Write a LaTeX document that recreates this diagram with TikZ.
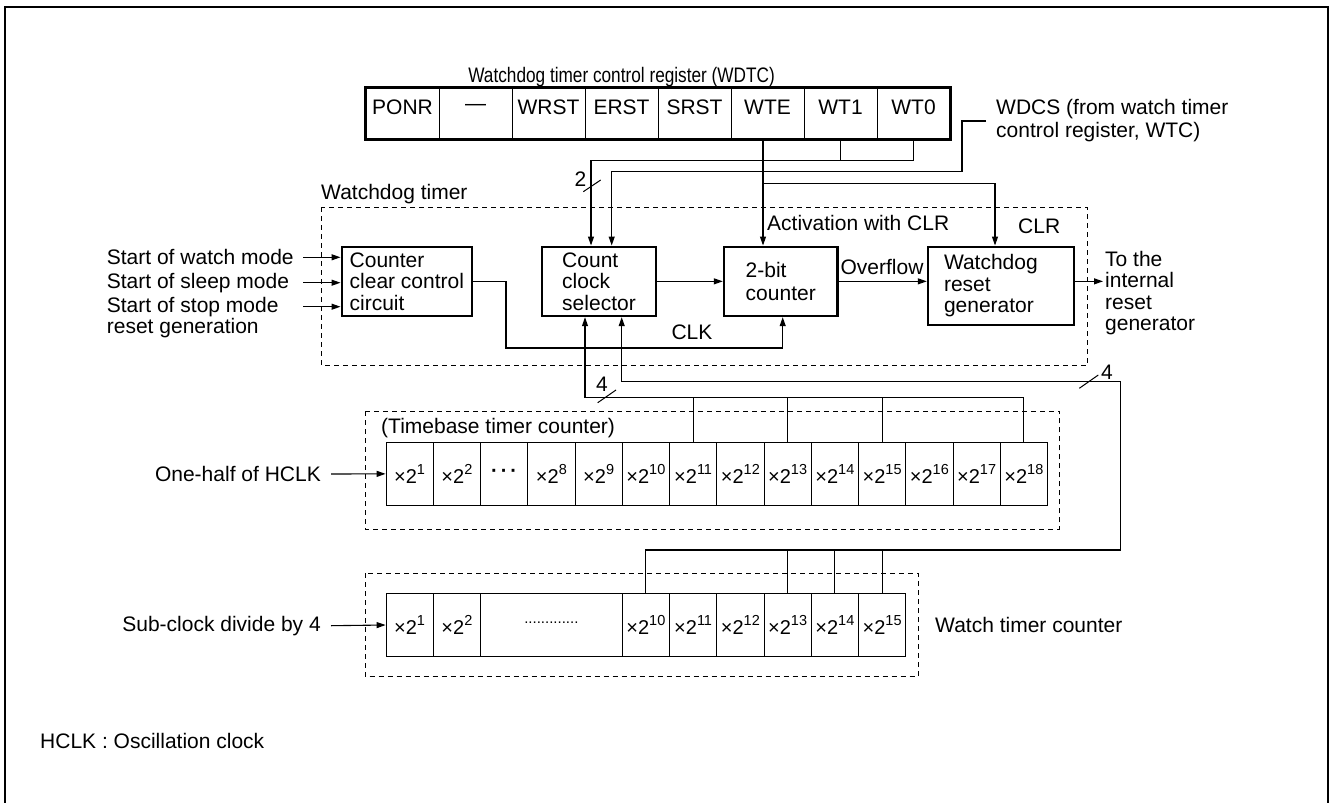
\documentclass[tikz,border=0pt]{standalone}
\usepackage{fontspec}
\setmainfont{Liberation Sans}
\usetikzlibrary{arrows.meta,calc}
\newcommand{\tp}[1]{×2\raisebox{0.45em}{\fontsize{14.5}{14.5}\selectfont #1}}
\tikzset{
  x=1pt, y=-1pt,
  txt/.style={font=\fontsize{21}{23}\selectfont, inner sep=0pt},
  blk/.style={draw, line width=2.4pt, font=\fontsize{21}{21.5}\selectfont, align=left, inner ysep=0pt, inner xsep=0pt},
  rcell/.style={draw, line width=0.9pt, minimum height=51.3pt, minimum width=73pt, inner sep=0pt},
  tcell/.style={draw, line width=0.8pt, minimum width=47.25pt, inner sep=0pt, font=\fontsize{20}{21}\selectfont},
  dbox/.style={draw, dash pattern=on 5pt off 4pt, line width=0.9pt},
  wire/.style={line width=1.1pt},
  arr/.style={wire, -{Triangle[length=9pt,width=6pt]}},
  slash/.style={line width=1pt},
}
\begin{document}
\begin{tikzpicture}
\useasboundingbox (0,0) rectangle (1333,803);
% outer frame
\draw[line width=2pt] (5,830) |- (1328,7) -- (1328,830);

% register
\node[txt] (rtitle) at (621.6,77.3) {\scalebox{0.82}[1]{Watchdog timer control register (WDTC)}};
\foreach \i/\t in {1/PONR,2/—,3/WRST,4/ERST,5/SRST,6/WTE,7/WT1,8/WT0}{
  \node[rcell] (c\i) at ({366+36.5+73*(\i-1)},113.35) {};
  \node[txt] (l\i) at ({366+36.5+73*(\i-1)},107) {\t};
}
\draw[line width=2.6pt] (c1.north west) rectangle (c8.south east);

\node[txt, anchor=west, align=left] (wdcs) at (996,121) {WDCS (from watch timer\\control register, WTC)};

% watchdog dashed box
\node[txt, anchor=west] (wdtl) at (321,194) {Watchdog timer};
\draw[dbox] (321.7,207.3) rectangle (1087.3,365.7);

% blocks
\node[blk, minimum width=130.3pt, minimum height=69.3pt] (ccc) at (406.85,281.35) {Counter\\clear control\\circuit};
\node[blk, minimum width=114pt, minimum height=69.3pt] (sel) at (599,281.35) {Count\\clock\\selector};
\node[blk, minimum width=113.5pt, minimum height=69.3pt, font=\fontsize{21}{23.5}\selectfont] (cnt) at (780.75,281.35) {2-bit\\counter};
\node[blk, minimum width=146pt, minimum height=78.3pt, text width=114pt, inner xsep=16pt] (wrg) at (1001,285.85) {Watchdog\\reset\\generator};

% inputs
\coordinate (a0) at (303.3,0);
\node[txt, anchor=west] (s1) at (106.7,257.3) {Start of watch mode};
\node[txt, anchor=west] (s2) at (106.7,282.7) {Start of sleep mode};
\node[txt, anchor=west] (s3) at (106.7,306.7) {Start of stop mode};
\node[txt, anchor=west] (s4) at (106.7,328.3) {reset generation};
\draw[arr] (s1.east -| a0) -- (s1.east -| ccc.west);
\draw[arr] (s2.east -| a0) -- (s2.east -| ccc.west);
\draw[arr] (s3.east -| a0) -- (s3.east -| ccc.west);

% register connections
\coordinate (b2) at (591,160.7);
\coordinate (wdx) at (611.7,171.7);
\coordinate (wtb) at (995,183.3);
\coordinate (wte) at (763,0);
\draw[arr] (c8.south) |- (b2) -- (b2 |- sel.north);
\draw[wire] (c7.south) -- (c7.south |- b2);
\draw[arr] ([xshift=-10pt]wdcs.west) -- (962,121) -- (962,171.7) -- (wdx) -- (wdx |- sel.north);
\draw[arr] (wte |- c6.south) -- (wte |- cnt.north);
\draw[arr] (wte |- wtb) -- (wtb) -- (wtb |- wrg.north);
\node[txt] (two) at (580.5,179) {2};
\draw[slash] (583.3,191.7) -- (600.7,180);

\node[txt, anchor=west] (act) at (767,222.7) {Activation with CLR};
\node[txt, anchor=west] (clr) at (1018,226.7) {CLR};

% internal arrows
\draw[arr] (sel.east) -- (cnt.west);
\draw[arr] (cnt.east) -- (cnt.east -| wrg.west);
\node[txt] (ovf) at (882,267) {Overflow};
\node[txt, anchor=north west, align=left, font=\fontsize{21}{21.3}\selectfont] (tothe) at (1105,251) {To the\\internal\\reset\\generator};
\coordinate (outend) at (1103,0);
\draw[arr] (cnt.east -| wrg.east) -- (cnt.east -| outend);

% CLK
\coordinate (clk) at (506,348);
\coordinate (clkx) at (782.7,0);
\draw[arr] (ccc.east) -| (clk) -- (clk -| clkx) -- (clkx |- cnt.south);
\node[txt] (clkl) at (692,332) {CLK};

% timebase counter
\draw[dbox] (365,411) rectangle (1059.3,529);
\node[txt, anchor=west] (tbl) at (381,428.3) {(Timebase timer counter)};
\foreach \i/\t in {1/\tp{1},2/\tp{2},3/\textbf{·\hspace{3pt}·\hspace{3pt}·},4/\tp{8},5/\tp{9},6/\tp{10},7/\tp{11},8/\tp{12},9/\tp{13},10/\tp{14},11/\tp{15},12/\tp{16},13/\tp{17},14/\tp{18}}{
  \node[tcell, minimum height=62.3pt] (t\i) at ({386+23.625+47.25*(\i-1)},473.85) {\t};
}
\node[txt, anchor=east] (half) at (321,474) {One-half of HCLK};
\draw[arr] ([xshift=10pt]half.east) -- (t1.west);

% watch timer counter
\draw[dbox] (365,573.3) rectangle (918,676.7);
\node[tcell, minimum height=63.4pt] (w1) at (409.625,625) {\tp{1}};
\node[tcell, minimum height=63.4pt] (w2) at (456.875,625) {\tp{2}};
\node[tcell, minimum height=63.4pt, minimum width=141.75pt] (w3) at (551.375,625) {};
\node[inner sep=0pt, font=\fontsize{15}{15}\selectfont] (dots) at (551.375,623) {.............};
\foreach \i/\t in {4/10,5/11,6/12,7/13,8/14,9/15}{
  \node[tcell, minimum height=63.4pt] (w\i) at ({622.25+23.625+47.25*(\i-4)},625) {\tp{\t}};
}
\node[txt, anchor=east] (sub) at (321,625.7) {Sub-clock divide by 4};
\draw[arr] ([xshift=10pt]sub.east) -- (w1.west);
\node[txt, anchor=west] (wtc) at (935,625) {Watch timer counter};

% bus from timebase (4)
\coordinate (tb) at (585,397.7);
\draw[arr] (t14.north) |- (tb) -- (tb |- sel.south);
\foreach \i in {7,9,11}{ \draw[wire] (t\i.north) -- (t\i.north |- tb); }
\node[txt] (four1) at (602,384) {4};
\draw[slash] (597.7,402.7) -- (616,390);

% bus from watch timer (4)
\coordinate (rb) at (621.7,381.7);
\coordinate (rc) at (1120.7,550);
\draw[arr] (w4.north) |- (rc) |- (rb) -- (rb |- sel.south);
\foreach \i in {7,8,9}{ \draw[wire] (w\i.north) -- (w\i.north |- rc); }
\node[txt] (four2) at (1107,372) {4};
\draw[slash] (1079.3,388.3) -- (1098.3,375);

\node[txt, anchor=west] (hclk) at (40,741) {HCLK : Oscillation clock};
\end{tikzpicture}
\end{document}
